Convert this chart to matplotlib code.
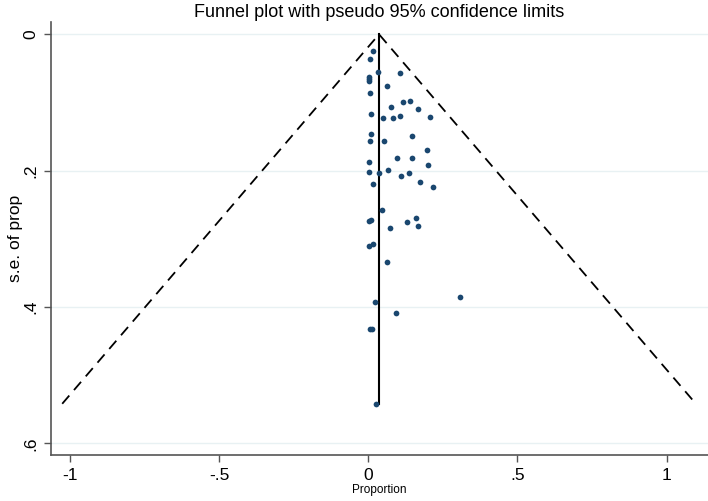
import matplotlib
matplotlib.use("Agg")
import matplotlib.pyplot as plt
import numpy as np

plt.rcParams['font.family'] = ['Liberation Sans', 'DejaVu Sans']

# Study proportions and their standard errors
prop = [0.016, 0.007, 0.034, 0.105, 0.003, 0.003, 0.003, 0.061, 0.006, 0.116,
        0.141, 0.076, 0.167, 0.008, 0.049, 0.082, 0.107, 0.207, 0.009, 0.004,
        0.051, 0.147, 0.197, 0.095, 0.147, 0.002, 0.199, 0.003, 0.035, 0.067,
        0.110, 0.137, 0.016, 0.174, 0.216, 0.046, 0.003, 0.009, 0.129, 0.161,
        0.168, 0.074, 0.003, 0.016, 0.061, 0.022, 0.309, 0.093, 0.004, 0.011,
        0.026]
se = [0.025, 0.036, 0.056, 0.057, 0.062, 0.065, 0.068, 0.076, 0.086, 0.099,
      0.098, 0.106, 0.109, 0.117, 0.123, 0.123, 0.120, 0.121, 0.146, 0.157,
      0.156, 0.149, 0.170, 0.181, 0.182, 0.187, 0.192, 0.202, 0.203, 0.199,
      0.208, 0.204, 0.219, 0.216, 0.224, 0.257, 0.274, 0.273, 0.275, 0.270,
      0.281, 0.284, 0.311, 0.308, 0.334, 0.393, 0.386, 0.409, 0.433, 0.432,
      0.542]
pooled = 0.036

xticks = [-1, -0.5, 0, 0.5, 1]
xticklabels = ['-1', '-.5', '0', '.5', '1']
yticks = [0, 0.2, 0.4, 0.6]
yticklabels = ['0', '.2', '.4', '.6']

fig = plt.figure(figsize=(7.08, 5.01), dpi=100)
ax = fig.add_axes([0.0716, 0.0912, 1 - 0.0716, 0.956 - 0.0912])

semax = max(se)
ax.plot([pooled - 1.96 * semax, pooled, pooled + 1.96 * semax], [semax, 0, semax],
        color='black', lw=1.3, dashes=(6, 4), zorder=3)
ax.plot([pooled, pooled], [0, semax], color='black', lw=1.5, zorder=3)
ax.scatter(prop, se, s=17, color='#1a476f', zorder=4, linewidths=0)

ax.set_xlim(-1.065, 1.139)
ax.set_ylim(0.6176, -0.018)

ax.set_xticks(xticks)
ax.set_xticklabels(xticklabels, fontsize=12.5)
ax.set_yticks(yticks)
ax.set_yticklabels(yticklabels, fontsize=12.5, rotation=90, va='center')
ax.tick_params(axis='both', direction='out', length=5, width=1, color='#555555', pad=4)

ax.grid(axis='y', color='#e8f1f3', lw=1)
ax.set_axisbelow(True)

for s in ['top', 'right']:
    ax.spines[s].set_visible(False)
for s in ['left', 'bottom']:
    ax.spines[s].set_color('#555555')
    ax.spines[s].set_linewidth(1.2)

ax.set_xlabel('Proportion', fontsize=8.5, labelpad=1)
ax.set_ylabel('s.e. of prop', fontsize=12.5, labelpad=0)
fig.text(0.535, 0.975, 'Funnel plot with pseudo 95% confidence limits',
         ha='center', va='center', fontsize=13)

fig.savefig('out.png', dpi=100)
